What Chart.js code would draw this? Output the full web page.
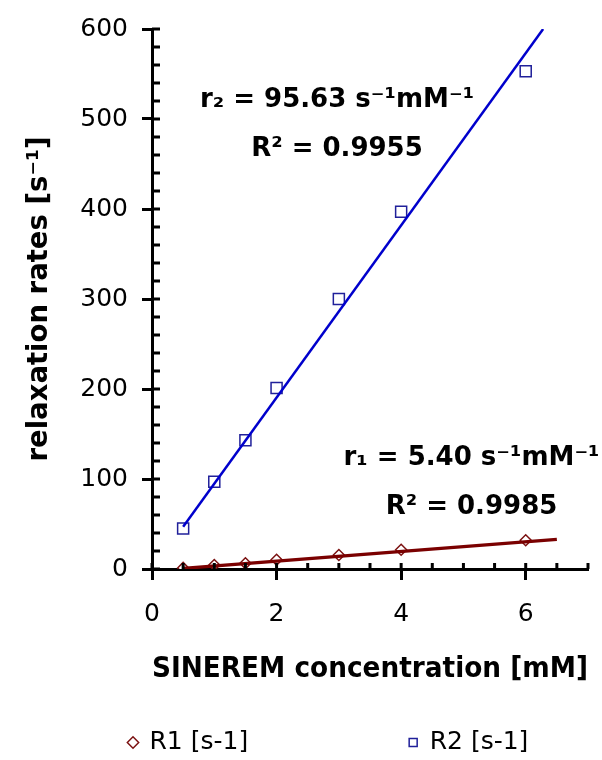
<!DOCTYPE html>
<html>
<head>
  <title>Relaxation rates vs SINEREM concentration</title>
  <script src="https://cdn.jsdelivr.net/npm/chart.js"></script>
  <style>
    body { margin: 0; background: #fff; }
    #chart { display: block; }
  </style>
</head>
<body>
<canvas id="chart" width="602" height="760"></canvas>

<script>
  // concentrations [mM]
  const conc = [0.5, 1, 1.5, 2, 3, 4, 6];
  const r1Values = [1.2, 4.4, 6.3, 10.3, 15.5, 21.4, 31.9];
  const r2Values = [45, 97, 143, 201, 300, 397, 553];
  // linear trend lines, end points as drawn
  const r1TrendX = [0.5, 6.5];
  const r1TrendY = [0.6, 33];
  const r2TrendX = [0.5, 6.28];
  const r2TrendY = [47, 600];

  const seriesNames = ["R1 [s-1]", "R2 [s-1]"];
  const xTickLabels = [0, 2, 4, 6];
  const yTickLabels = [0, 100, 200, 300, 400, 500, 600];

  // fit results written on the plot, anchored in data units
  const fitText = [
    ["r₂ = 95.63 s⁻¹mM⁻¹", "R² = 0.9955"],
    ["r₁ = 5.40 s⁻¹mM⁻¹", "R² = 0.9985"]
  ];
  const fitAt = [
    [[2.97, 513], [2.97, 459]],
    [[5.13, 116], [5.13, 61]]
  ];

  const FONT = '"DejaVu Sans"';
  Chart.defaults.font.family = FONT;
  Chart.defaults.color = "#000";

  const toPts = (xs, ys) => xs.map((x, i) => ({ x: x, y: ys[i] }));

  // small ticks on the inside of both axes
  const innerTicks = {
    id: "innerTicks",
    afterDatasetsDraw(chart) {
      const { ctx, scales: { x, y } } = chart;
      ctx.save();
      ctx.strokeStyle = "#000";
      ctx.lineWidth = 3;
      y.ticks.forEach(t => {
        const py = y.getPixelForValue(t.value);
        ctx.beginPath();
        ctx.moveTo(x.left, py);
        ctx.lineTo(x.left + 8, py);
        ctx.stroke();
      });
      x.ticks.forEach(t => {
        const px = x.getPixelForValue(t.value);
        ctx.beginPath();
        ctx.moveTo(px, y.bottom);
        ctx.lineTo(px, y.bottom - 6);
        ctx.stroke();
      });
      ctx.restore();
    }
  };

  const fitLabels = {
    id: "fitLabels",
    afterDraw(chart) {
      const { ctx, scales: { x, y } } = chart;
      ctx.save();
      ctx.font = "bold 26px " + FONT;
      ctx.fillStyle = "#000";
      ctx.textAlign = "center";
      ctx.textBaseline = "alphabetic";
      fitText.forEach((lines, i) => {
        lines.forEach((s, j) => {
          ctx.fillText(s, x.getPixelForValue(fitAt[i][j][0]), y.getPixelForValue(fitAt[i][j][1]));
        });
      });
      ctx.restore();
    }
  };

  // move the legend under the plot like the original
  const legendPlace = {
    id: "legendPlace",
    afterLayout(chart) {
      const lg = chart.legend;
      lg.left = 119;
      lg.top += 5;
      lg.bottom += 5;
    }
  };

  new Chart(document.getElementById("chart"), {
    type: "scatter",
    data: {
      datasets: [
        {
          label: seriesNames[0],
          data: toPts(conc, r1Values),
          pointStyle: "rectRot",
          pointRadius: 5.5,
          borderColor: "#7b1111",
          backgroundColor: "#fff",
          borderWidth: 1.5,
          order: 1
        },
        {
          label: seriesNames[1],
          data: toPts(conc, r2Values),
          pointStyle: "rect",
          pointRadius: 7.8,
          borderColor: "#20209a",
          backgroundColor: "#fff",
          borderWidth: 1.5,
          order: 1
        },
        {
          label: "R1 trend",
          data: toPts(r1TrendX, r1TrendY),
          showLine: true,
          pointRadius: 0,
          borderColor: "#7a0000",
          borderWidth: 3.2,
          order: 0
        },
        {
          label: "R2 trend",
          data: toPts(r2TrendX, r2TrendY),
          showLine: true,
          pointRadius: 0,
          borderColor: "#0000cc",
          borderWidth: 2.5,
          order: 0
        }
      ]
    },
    options: {
      responsive: false,
      animation: false,
      devicePixelRatio: 1,
      events: [],
      layout: { padding: { top: 25, right: 14, left: 0, bottom: 0 } },
      scales: {
        x: {
          type: "linear",
          min: 0,
          max: 7,
          afterFit: s => { s.height = 146; },
          border: { color: "#000", width: 3 },
          grid: {
            drawOnChartArea: false,
            tickLength: 11,
            tickWidth: 3,
            tickColor: c => xTickLabels.includes(c.tick.value) ? "#000" : "rgba(0,0,0,0)"
          },
          ticks: {
            stepSize: 0.5,
            autoSkip: false,
            maxRotation: 0,
            padding: 14,
            font: { size: 25, lineHeight: 1.6 },
            callback: v => xTickLabels.includes(v) ? String(v) : ""
          },
          title: {
            display: true,
            text: "SINEREM concentration [mM]",
            font: { size: 28.5, weight: "bold" },
            padding: { top: 0, bottom: 28.5 }
          }
        },
        y: {
          min: 0,
          max: 600,
          afterFit: s => { s.width = 152; },
          border: { color: "#000", width: 3 },
          grid: {
            drawOnChartArea: false,
            tickLength: 10,
            tickWidth: 3,
            tickColor: c => yTickLabels.includes(c.tick.value) ? "#000" : "rgba(0,0,0,0)"
          },
          ticks: {
            stepSize: 20,
            autoSkip: false,
            padding: 14,
            font: { size: 25 },
            callback: v => yTickLabels.includes(v) ? String(v) : ""
          },
          title: {
            display: true,
            text: "relaxation rates [s⁻¹]",
            font: { size: 27.5, weight: "bold" },
            padding: { top: 23, bottom: 0 }
          }
        }
      },
      plugins: {
        tooltip: { enabled: false },
        legend: {
          position: "bottom",
          align: "start",
          labels: {
            usePointStyle: true,
            boxWidth: 8,
            boxHeight: 8,
            padding: 10,
            font: { size: 25 },
            filter: item => item.datasetIndex < 2,
            generateLabels: chart => {
              const items = Chart.defaults.plugins.legend.labels.generateLabels(chart);
              items.forEach(it => {
                if (it.datasetIndex === 0) it.text = it.text + " ".repeat(19);
              });
              return items;
            }
          }
        }
      }
    },
    plugins: [innerTicks, fitLabels, legendPlace]
  });
</script>

</body>
</html>
